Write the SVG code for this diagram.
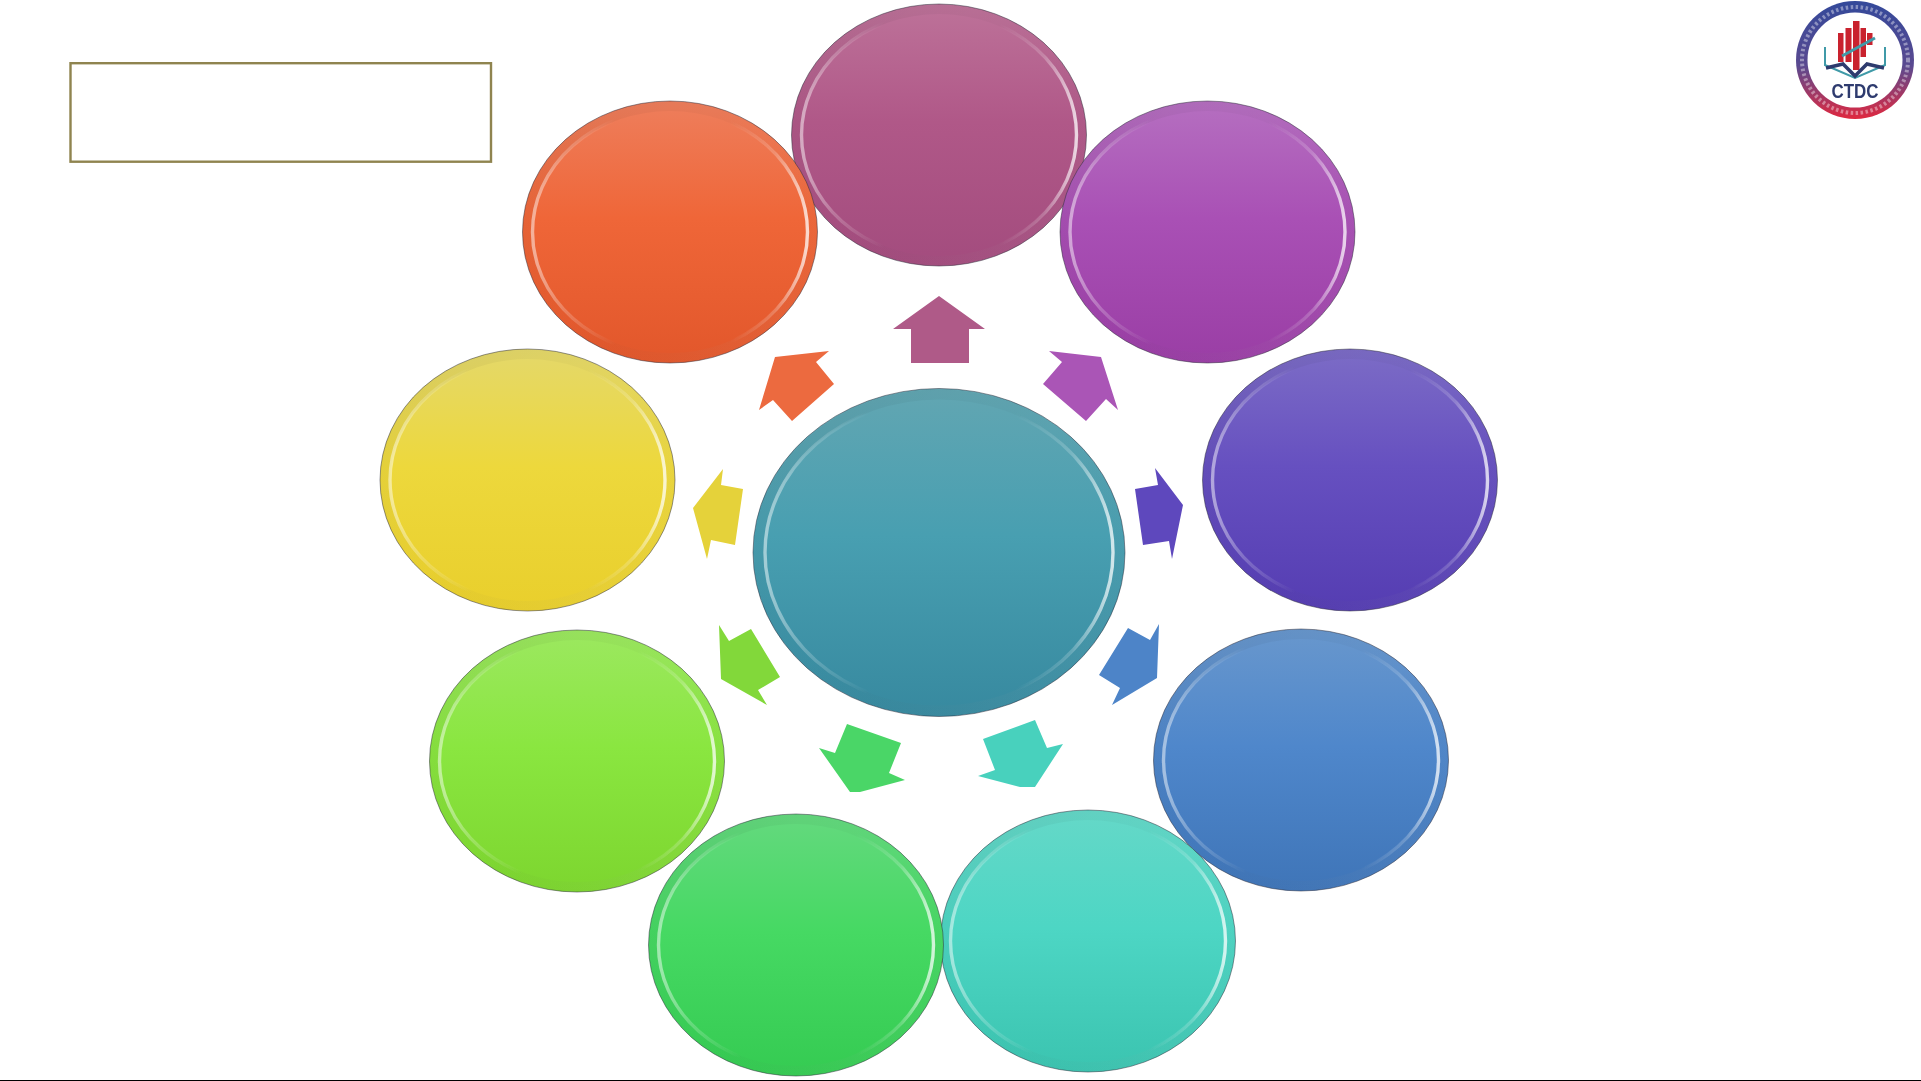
<svg xmlns="http://www.w3.org/2000/svg" width="1921" height="1081" viewBox="0 0 1921 1081">
<style>
.base{stroke:#2c2c3a;stroke-opacity:.5;stroke-width:1}
.band{fill:none;stroke:url(#band);stroke-width:10}
.rim{fill:none;stroke:url(#rim);stroke-width:3.4;filter:url(#rimblur)}
.frame{fill:#fff;stroke:#8f844f;stroke-width:2.4}
.a{stroke:none}
.bar{fill:#c9202f}
</style>
<defs>
<linearGradient id="band" x1="0" y1="0" x2="1" y2="1"><stop offset="0" stop-color="#000" stop-opacity=".06"/><stop offset=".5" stop-color="#000" stop-opacity=".01"/><stop offset="1" stop-color="#fff" stop-opacity=".07"/></linearGradient>
<linearGradient id="rim" x1="0" y1="0" x2="1" y2="0"><stop offset="0" stop-color="#fff" stop-opacity=".5"/><stop offset=".12" stop-color="#fff" stop-opacity=".22"/><stop offset=".3" stop-color="#fff" stop-opacity="0"/><stop offset=".72" stop-color="#fff" stop-opacity="0"/><stop offset=".88" stop-color="#fff" stop-opacity=".2"/><stop offset="1" stop-color="#fff" stop-opacity=".75"/></linearGradient>
<linearGradient id="gPink" x1="0" y1="0" x2="0" y2="1"><stop offset="0" stop-color="#bd7299"/><stop offset=".45" stop-color="#b05888"/><stop offset="1" stop-color="#a34c7e"/></linearGradient>
<linearGradient id="gPurple" x1="0" y1="0" x2="0" y2="1"><stop offset="0" stop-color="#b56fc0"/><stop offset=".45" stop-color="#a950b5"/><stop offset="1" stop-color="#9a3ea5"/></linearGradient>
<linearGradient id="gIndigo" x1="0" y1="0" x2="0" y2="1"><stop offset="0" stop-color="#7c6cc6"/><stop offset=".45" stop-color="#6650c0"/><stop offset="1" stop-color="#553db2"/></linearGradient>
<linearGradient id="gBlue" x1="0" y1="0" x2="0" y2="1"><stop offset="0" stop-color="#6897cd"/><stop offset=".45" stop-color="#4f87cb"/><stop offset="1" stop-color="#3f75b8"/></linearGradient>
<linearGradient id="gTeal" x1="0" y1="0" x2="0" y2="1"><stop offset="0" stop-color="#65d8c8"/><stop offset=".45" stop-color="#4dd6c4"/><stop offset="1" stop-color="#3bc4b0"/></linearGradient>
<linearGradient id="gGreen" x1="0" y1="0" x2="0" y2="1"><stop offset="0" stop-color="#64d97e"/><stop offset=".45" stop-color="#46d963"/><stop offset="1" stop-color="#35cb52"/></linearGradient>
<linearGradient id="gLime" x1="0" y1="0" x2="0" y2="1"><stop offset="0" stop-color="#9ce860"/><stop offset=".45" stop-color="#8ae640"/><stop offset="1" stop-color="#7dd62f"/></linearGradient>
<linearGradient id="gYellow" x1="0" y1="0" x2="0" y2="1"><stop offset="0" stop-color="#e4d86a"/><stop offset=".45" stop-color="#edd83c"/><stop offset="1" stop-color="#e9cf2c"/></linearGradient>
<linearGradient id="gOrange" x1="0" y1="0" x2="0" y2="1"><stop offset="0" stop-color="#ee7e5c"/><stop offset=".45" stop-color="#ef6638"/><stop offset="1" stop-color="#e2572b"/></linearGradient>
<linearGradient id="gCenter" x1="0" y1="0" x2="0" y2="1"><stop offset="0" stop-color="#62a6b2"/><stop offset=".45" stop-color="#489fb1"/><stop offset="1" stop-color="#37899f"/></linearGradient>
<linearGradient id="ring" x1="0" y1="0" x2="0" y2="1"><stop offset="0" stop-color="#33489a"/><stop offset=".55" stop-color="#5a4a90"/><stop offset="1" stop-color="#e0283f"/></linearGradient>
<filter id="soft" x="-5%" y="-5%" width="110%" height="110%"><feGaussianBlur stdDeviation=".6"/></filter>
<filter id="rimblur" x="-5%" y="-5%" width="110%" height="110%"><feGaussianBlur stdDeviation=".7"/></filter>
</defs>
<rect width="1921" height="1081" fill="#fff"/>
<rect id="baseline" x="0" y="1080" width="1921" height="1" fill="#000"/>
<g id="title-box"><rect class="frame" x="70.500" y="63.200" width="420.500" height="98.500"/></g>

<g id="node-pink"><ellipse class="base" cx="939" cy="135" rx="147.500" ry="131" fill="url(#gPink)"/><ellipse class="band" cx="939" cy="135" rx="142.500" ry="126"/><ellipse class="rim" cx="939" cy="135" rx="137.500" ry="122"/></g>
<g id="node-purple"><ellipse class="base" cx="1207.500" cy="232" rx="147.500" ry="131" fill="url(#gPurple)"/><ellipse class="band" cx="1207.500" cy="232" rx="142.500" ry="126"/><ellipse class="rim" cx="1207.500" cy="232" rx="137.500" ry="122"/></g>
<g id="node-indigo"><ellipse class="base" cx="1350" cy="480" rx="147.500" ry="131" fill="url(#gIndigo)"/><ellipse class="band" cx="1350" cy="480" rx="142.500" ry="126"/><ellipse class="rim" cx="1350" cy="480" rx="137.500" ry="122"/></g>
<g id="node-blue"><ellipse class="base" cx="1301" cy="760" rx="147.500" ry="131" fill="url(#gBlue)"/><ellipse class="band" cx="1301" cy="760" rx="142.500" ry="126"/><ellipse class="rim" cx="1301" cy="760" rx="137.500" ry="122"/></g>
<g id="node-teal"><ellipse class="base" cx="1088" cy="941" rx="147.500" ry="131" fill="url(#gTeal)"/><ellipse class="band" cx="1088" cy="941" rx="142.500" ry="126"/><ellipse class="rim" cx="1088" cy="941" rx="137.500" ry="122"/></g>
<g id="node-green"><ellipse class="base" cx="796" cy="945" rx="147.500" ry="131" fill="url(#gGreen)"/><ellipse class="band" cx="796" cy="945" rx="142.500" ry="126"/><ellipse class="rim" cx="796" cy="945" rx="137.500" ry="122"/></g>
<g id="node-lime"><ellipse class="base" cx="577" cy="761" rx="147.500" ry="131" fill="url(#gLime)"/><ellipse class="band" cx="577" cy="761" rx="142.500" ry="126"/><ellipse class="rim" cx="577" cy="761" rx="137.500" ry="122"/></g>
<g id="node-yellow"><ellipse class="base" cx="527.500" cy="480" rx="147.500" ry="131" fill="url(#gYellow)"/><ellipse class="band" cx="527.500" cy="480" rx="142.500" ry="126"/><ellipse class="rim" cx="527.500" cy="480" rx="137.500" ry="122"/></g>
<g id="node-orange"><ellipse class="base" cx="670" cy="232" rx="147.500" ry="131" fill="url(#gOrange)"/><ellipse class="band" cx="670" cy="232" rx="142.500" ry="126"/><ellipse class="rim" cx="670" cy="232" rx="137.500" ry="122"/></g>
<g id="node-center"><ellipse class="base" cx="939" cy="552.500" rx="186" ry="164" fill="url(#gCenter)"/><ellipse class="band" cx="939" cy="552.500" rx="180" ry="158"/><ellipse class="rim" cx="939" cy="552.500" rx="174" ry="153"/></g>

<g id="connectors">
<polygon class="a" fill="#af5a88" points="939,296 893,329 911,329 911,363 969,363 969,329 985,329"/>
<polygon class="a" fill="#aa55b6" points="1101,357 1118,410 1106,399 1086,421 1043,384 1062,362 1049,351"/>
<polygon class="a" fill="#5e48bd" points="1183,505 1155,468 1158,485 1135,489 1143,545 1169,541 1172,559"/>
<polygon class="a" fill="#4d84c8" points="1157,678 1159,624 1150,640 1128,628 1099,675 1120,688 1112,705"/>
<polygon class="a" fill="#48d1bd" points="1063,744 1047,748 1035,720 983,739 995,770 978,776 1020,787 1035,787"/>
<polygon class="a" fill="#4ad667" points="819,748 835,753 847,724 901,743 889,773 905,780 860,792 850,792"/>
<polygon class="a" fill="#82d83a" points="721,679 719,625 729,641 751,629 780,677 758,690 767,705"/>
<polygon class="a" fill="#e5d23a" points="693,508 723,469 721,485 743,489 735,545 711,540 707,559"/>
<polygon class="a" fill="#ec6a3f" points="775,357 829,351 816,362 834,384 792,421 773,400 759,410"/>
</g>

<g id="logo">
<g filter="url(#soft)">
<circle cx="1855" cy="60" r="59" fill="url(#ring)"/>
<circle cx="1855" cy="60" r="53" fill="none" stroke="#fff" stroke-opacity=".4" stroke-width="4" stroke-dasharray="2.500 2.500"/>
<circle cx="1855" cy="60" r="47.500" fill="#fff"/>
<rect class="bar" x="1838" y="33" width="5.500" height="29"/>
<rect class="bar" x="1845.500" y="28" width="6" height="34"/>
<rect class="bar" x="1853" y="21" width="6.500" height="49"/>
<rect class="bar" x="1860.500" y="28" width="5.500" height="29"/>
<rect class="bar" x="1867" y="33" width="5.500" height="12"/>
<path d="M1842 56L1875 38" fill="none" stroke="#3f9aa8" stroke-width="3"/>
<path d="M1825 47L1825 65L1855 78L1885 65L1885 47" fill="none" stroke="#3f9aa8" stroke-width="2"/>
<path d="M1826 68L1843 64L1855 76L1867 64L1884 68" fill="none" stroke="#2d3a6e" stroke-width="3.500"/>
<text x="1855" y="98" text-anchor="middle" textLength="47" lengthAdjust="spacingAndGlyphs" font-family="'Liberation Sans',Arial,sans-serif" font-weight="700" font-size="21" fill="#2d3a6e">CTDC</text>
</g>
</g>
</svg>
